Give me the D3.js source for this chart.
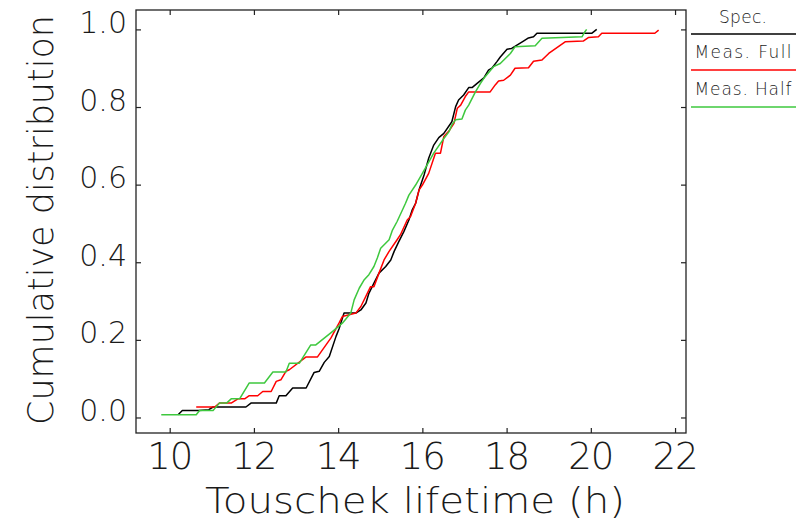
<!DOCTYPE html>
<html>
<head>
<meta charset="utf-8">
<script src="https://cdn.jsdelivr.net/npm/d3@7"></script>
<style>
  html, body { margin: 0; padding: 0; background: #ffffff; }
  svg { display: block; }
  .lbl { font-family: "DejaVu Sans", "Liberation Sans", sans-serif; font-weight: 200; fill: #1a1a1a; }
</style>
</head>
<body>
<svg id="chart" width="803" height="521"></svg>
<script>
// Cumulative distributions of Touschek lifetime (hours)
const seriesNames = ["Spec.", "Meas. Full", "Meas. Half"];
const seriesColors = ["#000000", "#ff0000", "#3ec83e"];

const specLifetime = [10.20, 10.30, 10.69, 10.93, 11.03, 11.81, 11.93, 12.53, 12.60, 12.76, 12.92, 13.24, 13.43, 13.55, 13.67, 13.79, 13.95, 14.02, 14.14, 14.42, 14.54, 14.66, 14.73, 14.85, 14.97, 15.13, 15.25, 15.33, 15.44, 15.56, 15.68, 15.76, 15.84, 15.92, 15.96, 16.04, 16.15, 16.27, 16.39, 16.51, 16.70, 16.79, 16.86, 16.98, 17.10, 17.18, 17.30, 17.46, 17.57, 17.65, 17.77, 17.85, 18.01, 18.12, 18.40, 18.52, 18.64, 18.72, 20.02, 20.14];
const specCdf      = [0.007, 0.018, 0.018, 0.020, 0.027, 0.027, 0.037, 0.037, 0.056, 0.056, 0.076, 0.076, 0.116, 0.119, 0.142, 0.157, 0.209, 0.228, 0.269, 0.269, 0.277, 0.295, 0.320, 0.346, 0.372, 0.389, 0.406, 0.428, 0.453, 0.479, 0.509, 0.535, 0.552, 0.586, 0.599, 0.625, 0.668, 0.702, 0.721, 0.732, 0.762, 0.801, 0.818, 0.831, 0.850, 0.850, 0.861, 0.875, 0.895, 0.900, 0.917, 0.929, 0.949, 0.951, 0.970, 0.978, 0.981, 0.990, 0.990, 1.000];

const fullLifetime = [10.63, 11.07, 11.18, 11.46, 11.62, 11.78, 11.89, 12.09, 12.21, 12.41, 12.53, 12.64, 12.76, 12.84, 13.24, 13.51, 13.83, 14.02, 14.10, 14.42, 14.54, 14.77, 14.85, 14.97, 15.09, 15.21, 15.40, 15.48, 15.64, 15.72, 15.84, 15.92, 16.00, 16.15, 16.31, 16.43, 16.51, 16.63, 16.75, 16.83, 16.91, 17.02, 17.10, 17.61, 17.73, 17.81, 17.93, 18.09, 18.20, 18.52, 18.64, 18.84, 19.00, 19.39, 19.82, 19.94, 20.18, 20.26, 21.52, 21.61];
const fullCdf      = [0.027, 0.027, 0.037, 0.037, 0.048, 0.048, 0.056, 0.056, 0.067, 0.067, 0.093, 0.097, 0.119, 0.123, 0.156, 0.156, 0.205, 0.243, 0.260, 0.269, 0.286, 0.337, 0.337, 0.372, 0.406, 0.428, 0.458, 0.471, 0.509, 0.518, 0.552, 0.586, 0.599, 0.629, 0.681, 0.681, 0.724, 0.738, 0.758, 0.797, 0.805, 0.827, 0.839, 0.839, 0.857, 0.867, 0.869, 0.882, 0.900, 0.901, 0.918, 0.921, 0.938, 0.968, 0.970, 0.979, 0.981, 0.990, 0.990, 0.998];

const halfLifetime = [9.80, 10.63, 10.71, 11.03, 11.18, 11.35, 11.46, 11.66, 11.89, 12.25, 12.45, 12.76, 12.84, 13.08, 13.35, 13.47, 13.87, 14.10, 14.30, 14.38, 14.50, 14.62, 14.73, 14.85, 14.93, 15.01, 15.21, 15.29, 15.40, 15.60, 15.68, 15.84, 16.00, 16.27, 16.51, 16.63, 16.70, 16.79, 16.94, 17.02, 17.10, 17.26, 17.38, 17.46, 17.69, 17.85, 17.97, 18.09, 18.20, 18.68, 18.84, 19.79, 19.86, 19.90];
const halfCdf      = [0.007, 0.007, 0.018, 0.018, 0.037, 0.037, 0.048, 0.048, 0.089, 0.089, 0.117, 0.117, 0.140, 0.140, 0.187, 0.187, 0.222, 0.243, 0.269, 0.303, 0.333, 0.355, 0.368, 0.389, 0.411, 0.436, 0.458, 0.483, 0.505, 0.552, 0.573, 0.599, 0.629, 0.681, 0.719, 0.736, 0.754, 0.767, 0.769, 0.792, 0.805, 0.839, 0.861, 0.874, 0.904, 0.912, 0.925, 0.938, 0.955, 0.958, 0.977, 0.981, 0.994, 1.000];

const xTicks = [10, 12, 14, 16, 18, 20, 22];
const yTicks = [0.0, 0.2, 0.4, 0.6, 0.8, 1.0];
const xTitle = "Touschek lifetime (h)";
const yTitle = "Cumulative distribution";

const seriesData = [
  d3.zip(specLifetime, specCdf),
  d3.zip(fullLifetime, fullCdf),
  d3.zip(halfLifetime, halfCdf)
];

const svg = d3.select("#chart");
const plot = { left: 136, right: 686, top: 10, bottom: 433 };

const x = d3.scaleLinear().domain([9.2, 22.26]).range([plot.left, plot.right]);
const y = d3.scaleLinear().domain([-0.04, 1.05]).range([plot.bottom, plot.top]);

// inward ticks on all four sides
const tickLen = 5;
const axes = svg.append("g");
const bottomAxis = axes.append("g")
  .attr("transform", `translate(0,${plot.bottom})`)
  .call(d3.axisBottom(x).tickValues(xTicks).tickSizeInner(-tickLen).tickSizeOuter(0)
        .tickPadding(10).tickFormat(d3.format("d")));
axes.append("g")
  .attr("transform", `translate(0,${plot.top})`)
  .call(d3.axisTop(x).tickValues(xTicks).tickSizeInner(-tickLen).tickSizeOuter(0).tickFormat(""));
const leftAxis = axes.append("g")
  .attr("transform", `translate(${plot.left},0)`)
  .call(d3.axisLeft(y).tickValues(yTicks).tickSizeInner(-tickLen).tickSizeOuter(0)
        .tickPadding(9).tickFormat(d3.format(".1f")));
axes.append("g")
  .attr("transform", `translate(${plot.right},0)`)
  .call(d3.axisRight(y).tickValues(yTicks).tickSizeInner(-tickLen).tickSizeOuter(0).tickFormat(""));

axes.selectAll(".domain").remove();
axes.selectAll(".tick line").attr("stroke", "#222").attr("stroke-width", 1.2);
axes.selectAll(".tick text")
  .attr("class", "lbl")
  .attr("font-family", null)
  .style("fill", "#1a1a1a");
bottomAxis.selectAll(".tick text")
  .style("font-size", "37px")
  .attr("textLength", 46).attr("lengthAdjust", "spacing");
leftAxis.selectAll(".tick text")
  .style("font-size", "30px").attr("dy", "0.1em");

// plot frame
svg.append("rect")
  .attr("x", plot.left).attr("y", plot.top)
  .attr("width", plot.right - plot.left).attr("height", plot.bottom - plot.top)
  .attr("fill", "none").attr("stroke", "#222").attr("stroke-width", 1.3);

// curves
const line = d3.line().x(d => x(d[0])).y(d => y(d[1]));
svg.append("g").selectAll("path")
  .data(seriesData)
  .join("path")
  .attr("d", line)
  .attr("fill", "none")
  .attr("stroke", (d, i) => seriesColors[i])
  .attr("stroke-width", 1.5)
  .attr("stroke-linejoin", "round");

// axis titles
svg.append("text").attr("class", "lbl")
  .attr("x", 415).attr("y", 513)
  .attr("text-anchor", "middle")
  .attr("textLength", 420).attr("lengthAdjust", "spacingAndGlyphs")
  .style("font-size", "35px")
  .text(xTitle);
svg.append("text").attr("class", "lbl")
  .attr("transform", "translate(53,220) rotate(-90)")
  .attr("text-anchor", "middle")
  .attr("textLength", 410).attr("lengthAdjust", "spacingAndGlyphs")
  .style("font-size", "35px")
  .text(yTitle);

// legend to the right of the frame
const legend = svg.append("g");
const legendY = [23, 58, 95];
const legendLineY = [34, 70, 107];
const legendTextW = [48, 97, 97];
seriesNames.forEach((name, i) => {
  legend.append("text").attr("class", "lbl")
    .attr("x", 743).attr("y", legendY[i])
    .attr("text-anchor", "middle")
    .attr("textLength", legendTextW[i]).attr("lengthAdjust", "spacing")
    .style("font-size", "17px")
    .text(name);
  legend.append("line")
    .attr("x1", 691).attr("x2", 796)
    .attr("y1", legendLineY[i]).attr("y2", legendLineY[i])
    .attr("stroke", seriesColors[i]).attr("stroke-width", 1.5);
});
</script>
</body>
</html>
